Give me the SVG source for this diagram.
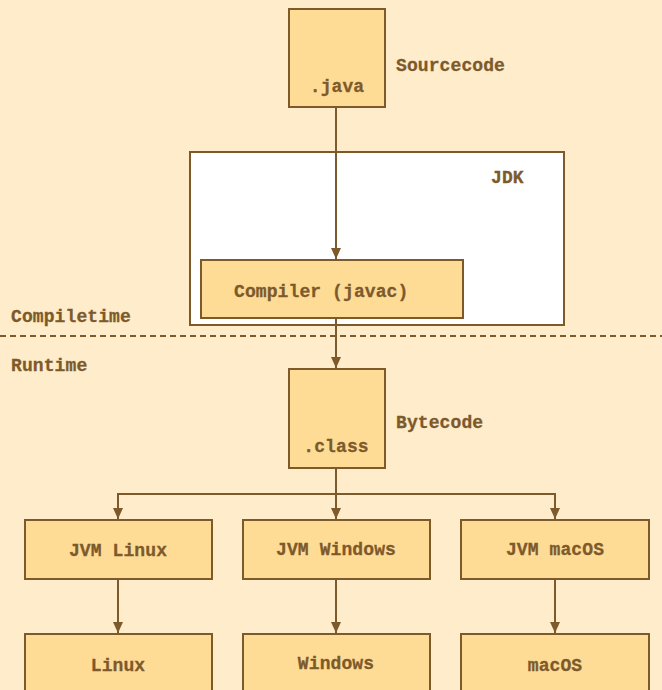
<svg xmlns="http://www.w3.org/2000/svg" width="662" height="690" viewBox="0 0 662 690">
<style>
.bg{fill:#ffeccb}
.node{fill:#ffdc96;stroke:#7d5a2b;stroke-width:2}
.jdk{fill:#ffffff;stroke:#7d5a2b;stroke-width:2}
.t{font-family:"Liberation Mono","DejaVu Sans Mono",monospace;font-weight:bold;font-size:18px;fill:#7d5a2b;stroke:#7d5a2b;stroke-width:0.3px;letter-spacing:0.1px}
.c{text-anchor:middle}
.edge{fill:none;stroke:#7d5a2b;stroke-width:2}
.dash{fill:none;stroke:#7d5a2b;stroke-width:2;stroke-dasharray:6 4}
</style>
<defs>
<marker id="arr" markerWidth="11" markerHeight="10" refX="11" refY="5" orient="auto" markerUnits="userSpaceOnUse">
<path d="M0,0 L11,5 L0,10 Z" fill="#7d5a2b"/>
</marker>
</defs>
<rect class="bg" x="0" y="0" width="662" height="690"/>

<g id="jdk">
<rect class="jdk" x="190" y="152" width="374" height="173"/>
<text class="t" x="491" y="183">JDK</text>
</g>

<g id="connectors">
<path class="edge" d="M336,108 V259" marker-end="url(#arr)"/>
<path class="edge" d="M336,319 V368" marker-end="url(#arr)"/>
<path class="edge" d="M336,469 V519" marker-end="url(#arr)"/>
<path class="edge" d="M118,519 V494 H555 V519" marker-end="url(#arr)"/>
<path class="edge" d="M118,494 V519" marker-end="url(#arr)"/>
<path class="edge" d="M118,580 V633" marker-end="url(#arr)"/>
<path class="edge" d="M336,580 V633" marker-end="url(#arr)"/>
<path class="edge" d="M555,580 V633" marker-end="url(#arr)"/>
</g>

<g id="divider">
<path class="dash" d="M0,336 H662"/>
<text class="t" x="11" y="322">Compiletime</text>
<text class="t" x="11" y="371">Runtime</text>
</g>

<g id="java">
<rect class="node" x="289" y="9" width="96" height="98"/>
<text class="t c" x="337" y="92">.java</text>
<text class="t" x="396" y="71">Sourcecode</text>
</g>

<g id="compiler">
<rect class="node" x="201" y="260" width="262" height="58"/>
<text class="t" x="234" y="297">Compiler (javac)</text>
</g>

<g id="class">
<rect class="node" x="289" y="369" width="96" height="99"/>
<text class="t c" x="336" y="452">.class</text>
<text class="t" x="396" y="428">Bytecode</text>
</g>

<g id="jvm-linux">
<rect class="node" x="25" y="520" width="187" height="59"/>
<text class="t c" x="118" y="556">JVM Linux</text>
</g>
<g id="jvm-windows">
<rect class="node" x="243" y="520" width="187" height="59"/>
<text class="t c" x="336" y="555">JVM Windows</text>
</g>
<g id="jvm-macos">
<rect class="node" x="461" y="520" width="188" height="59"/>
<text class="t c" x="555" y="555">JVM macOS</text>
</g>

<g id="linux">
<rect class="node" x="25" y="634" width="187" height="62"/>
<text class="t c" x="118" y="671">Linux</text>
</g>
<g id="windows">
<rect class="node" x="243" y="634" width="187" height="62"/>
<text class="t c" x="336" y="669">Windows</text>
</g>
<g id="macos">
<rect class="node" x="461" y="634" width="188" height="62"/>
<text class="t c" x="555" y="671">macOS</text>
</g>
</svg>
